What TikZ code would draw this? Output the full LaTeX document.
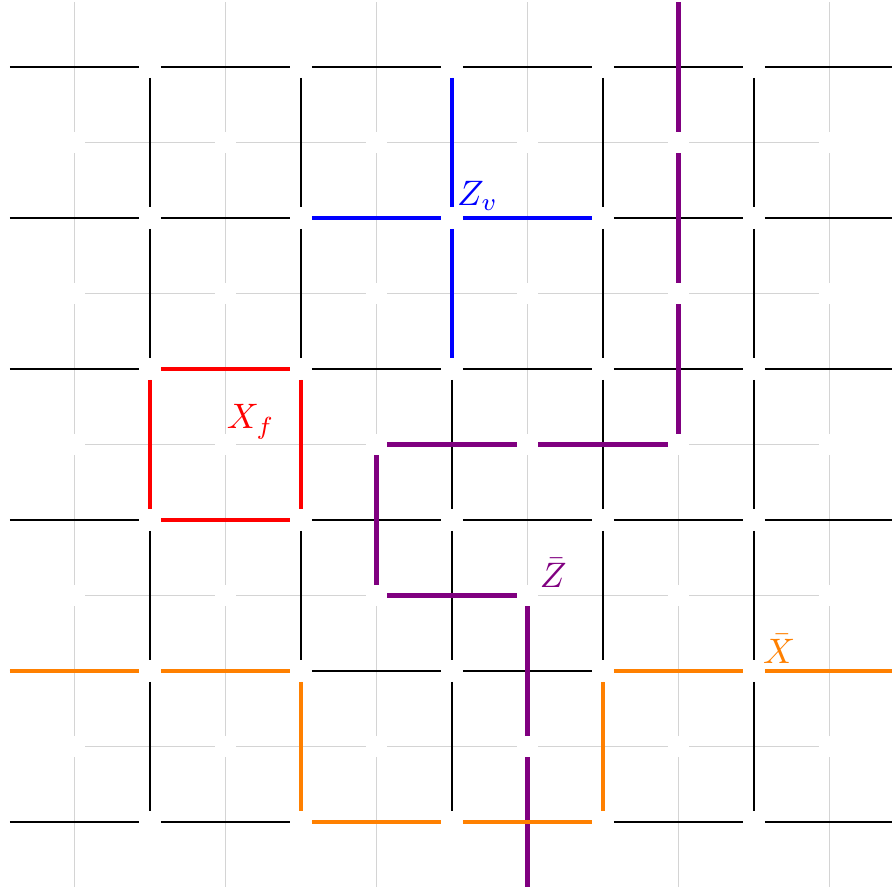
\documentclass[tikz,border=0pt]{standalone}
\usepackage{amsmath}
\definecolor{zbarpurple}{RGB}{128,0,128}
\definecolor{xbarorange}{RGB}{255,128,0}
\tikzset{
  primal/.style={draw=black, line width=0.32pt, shorten <=0.109cm, shorten >=0.109cm},
  dual/.style={draw=black!17, line width=0.5pt, shorten <=0.109cm, shorten >=0.109cm},
  opedge/.style={line width=1.25pt, shorten <=0.109cm, shorten >=0.109cm},
  oplabel/.style={anchor=base west, inner sep=0pt, font=\normalsize}
}
\begin{document}
\begin{tikzpicture}[x=1.5cm,y=1.5cm]
\path[use as bounding box] (0.0066,0.4437) rectangle (5.9139,-5.457);
\clip (0.0066,0.4437) rectangle (5.9139,-5.457);
% primal vertices
\foreach \i in {0,...,6}{\foreach \j in {0,...,5}{\coordinate (p-\i-\j) at (\i,-\j);}}
% dual vertices
\foreach \a in {0,...,5}{\foreach \b in {0,...,6}{\coordinate (d-\a-\b) at (\a+0.5,-\b+0.5);}}
% dual lattice (gray)
\foreach \a in {0,...,5}{\foreach \b [evaluate=\b as \bn using int(\b+1)] in {0,...,5}{\draw[dual] (d-\a-\b) -- (d-\a-\bn);}}
\foreach \b in {1,...,5}{\foreach \a [evaluate=\a as \an using int(\a+1)] in {0,...,4}{\draw[dual] (d-\a-\b) -- (d-\an-\b);}}
% primal lattice (black)
\foreach \j in {0,...,5}{\foreach \i [evaluate=\i as \in using int(\i+1)] in {0,...,5}{\draw[primal] (p-\i-\j) -- (p-\in-\j);}}
\foreach \i in {1,...,5}{\foreach \j [evaluate=\j as \jn using int(\j+1)] in {0,...,4}{\draw[primal] (p-\i-\j) -- (p-\i-\jn);}}
% Z_v star (blue)
\foreach \s/\t in {p-2-1/p-3-1, p-3-1/p-4-1, p-3-0/p-3-1, p-3-1/p-3-2}{\draw[opedge, blue] (\s) -- (\t);}
% X_f plaquette (red)
\foreach \s/\t in {p-1-2/p-2-2, p-1-3/p-2-3, p-1-2/p-1-3, p-2-2/p-2-3}{\draw[opedge, red] (\s) -- (\t);}
% Z bar (purple) on dual lattice
\foreach \s/\t in {d-4-0/d-4-1, d-4-1/d-4-2, d-4-2/d-4-3, d-4-3/d-3-3, d-3-3/d-2-3, d-2-3/d-2-4, d-2-4/d-3-4, d-3-4/d-3-5, d-3-5/d-3-6}{\draw[opedge, zbarpurple] (\s) -- (\t);}
% X bar (orange) on primal lattice
\foreach \s/\t in {p-0-4/p-1-4, p-1-4/p-2-4, p-2-4/p-2-5, p-2-5/p-3-5, p-3-5/p-4-5, p-4-5/p-4-4, p-4-4/p-5-4, p-5-4/p-6-4}{\draw[opedge, xbarorange] (\s) -- (\t);}
% labels
\node[oplabel, text=blue] (lzv) at (3.030,-0.914) {$Z_v$};
\node[oplabel, text=red] (lxf) at (1.505,-2.397) {$X_f$};
\node[oplabel, text=zbarpurple] (lzb) at (3.578,-3.444) {$\bar{Z}$};
\node[oplabel, text=xbarorange] (lxb) at (5.055,-3.947) {$\bar{X}$};
\end{tikzpicture}
\end{document}
